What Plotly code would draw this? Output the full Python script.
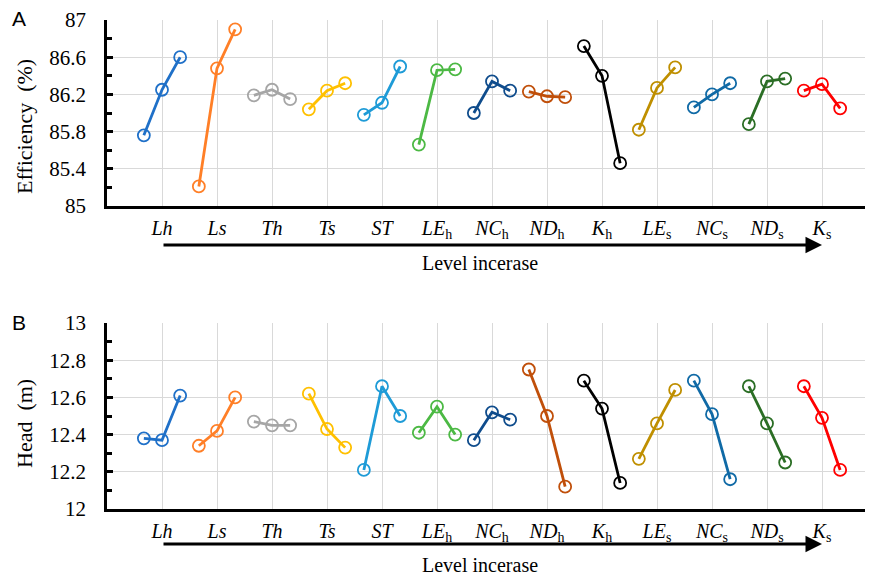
import plotly.graph_objects as go

categories = ["Lh", "Ls", "Th", "Ts", "ST", "LE_h", "NC_h", "ND_h", "K_h", "LE_s", "NC_s", "ND_s", "K_s"]
tick_labels = ["<i>Lh</i>", "<i>Ls</i>", "<i>Th</i>", "<i>Ts</i>", "<i>ST</i>",
               "<i>LE</i><sub>h</sub>", "<i>NC</i><sub>h</sub>", "<i>ND</i><sub>h</sub>", "<i>K</i><sub>h</sub>",
               "<i>LE</i><sub>s</sub>", "<i>NC</i><sub>s</sub>", "<i>ND</i><sub>s</sub>", "<i>K</i><sub>s</sub>"]

efficiency = [
    [85.76, 86.25, 86.60],
    [85.21, 86.48, 86.90],
    [86.19, 86.25, 86.15],
    [86.04, 86.24, 86.32],
    [85.98, 86.11, 86.50],
    [85.66, 86.46, 86.47],
    [86.00, 86.34, 86.24],
    [86.23, 86.18, 86.17],
    [86.72, 86.40, 85.46],
    [85.82, 86.27, 86.49],
    [86.06, 86.20, 86.32],
    [85.88, 86.34, 86.37],
    [86.24, 86.31, 86.05],
]

head = [
    [12.38, 12.37, 12.61],
    [12.34, 12.42, 12.60],
    [12.47, 12.45, 12.45],
    [12.62, 12.43, 12.33],
    [12.21, 12.66, 12.50],
    [12.41, 12.55, 12.40],
    [12.37, 12.52, 12.48],
    [12.75, 12.50, 12.12],
    [12.69, 12.54, 12.14],
    [12.27, 12.46, 12.64],
    [12.69, 12.51, 12.16],
    [12.66, 12.46, 12.25],
    [12.66, 12.49, 12.21],
]

colors = ["#1F70C8", "#FF7F27", "#A6A6A6", "#FFC000", "#1E9BD7", "#4CB944", "#0F4C8C",
          "#C04F0A", "#000000", "#BF8F00", "#106AA6", "#2B6E25", "#FF0000"]

level_offsets = [-0.33, 0.0, 0.33]

fig = go.Figure()

for i, cat in enumerate(categories):
    xs = [i + 1 + o for o in level_offsets]
    for vals, xa, ya in [(efficiency[i], "x", "y"), (head[i], "x2", "y2")]:
        fig.add_trace(go.Scatter(
            x=xs, y=vals, xaxis=xa, yaxis=ya, mode="lines+markers",
            line=dict(color=colors[i], width=2.8),
            marker=dict(symbol="circle-open", size=12, color=colors[i], line=dict(width=1.8)),
            showlegend=False, name=cat, cliponaxis=False,
        ))

serif = '"Liberation Serif", "Times New Roman", serif'
sans = '"Liberation Sans", Arial, sans-serif'
OFF = 8  # page body margin offset
W, H = 873 - OFF, 579 - OFF
ml, mt, mb = 107 - OFF, 20 - OFF, 70
plot_h = H - mt - mb

def py(pix):
    # pix is a screen y coordinate in the 873x579 window
    return (H - mb - (pix - OFF)) / plot_h

def px(pix):
    return (pix - OFF - ml) / (W - ml)

xrange = [0, (W - ml) / 55.0]
xaxis_common = dict(
    range=xrange, tickmode="array", tickvals=list(range(1, 14)), ticktext=tick_labels,
    showgrid=True, gridcolor="#D9D9D9", gridwidth=1.3, zeroline=False,
    showline=True, linecolor="black", linewidth=2.5, ticks="",
    tickfont=dict(family=serif, size=20, color="black"), ticklabelstandoff=2,
)
yaxis_common = dict(
    showgrid=True, gridcolor="#D9D9D9", gridwidth=1.3, zeroline=False,
    showline=True, linecolor="black", linewidth=2.5,
    ticks="inside", ticklen=6, tickwidth=2.5, tickcolor="black",
    tickfont=dict(family=serif, size=21, color="black"), ticklabelstandoff=14,
)

fig.update_layout(
    width=W, height=H, plot_bgcolor="white", paper_bgcolor="white",
    margin=dict(l=ml, r=0, t=mt, b=mb),
    font=dict(family=serif),
    xaxis=dict(domain=[0, 1], anchor="y", **xaxis_common),
    yaxis=dict(domain=[py(206), 1], anchor="x", range=[85, 87], tickvals=[85, 85.4, 85.8, 86.2, 86.6, 87],
               ticktext=["85", "85.4", "85.8", "86.2", "86.6", "87"],
               minor=dict(dtick=0.2, tick0=85, ticks="inside", ticklen=5, tickwidth=2.5, tickcolor="black", showgrid=False),
               **yaxis_common),
    xaxis2=dict(domain=[0, 1], anchor="y2", **xaxis_common),
    yaxis2=dict(domain=[0, py(323)], anchor="x2", range=[12, 13], tickvals=[12, 12.2, 12.4, 12.6, 12.8, 13],
                ticktext=["12", "12.2", "12.4", "12.6", "12.8", "13"],
                minor=dict(dtick=0.1, tick0=12, ticks="inside", ticklen=5, tickwidth=2.5, tickcolor="black", showgrid=False),
                **yaxis_common),
)

annotations = []
for (xref, arrow_y, text_y) in [("x", 245, 263), ("x2", 544, 565)]:
    annotations.append(dict(
        x=13, y=py(arrow_y), xref=xref, yref="paper", ax=1, ay=0, axref=xref, ayref="pixel",
        showarrow=True, arrowhead=2, arrowsize=1.1, arrowwidth=3, arrowcolor="black", text="",
    ))
    annotations.append(dict(
        x=px(480), y=py(text_y), xref="paper", yref="paper", showarrow=False,
        text="Level incerase", font=dict(family=serif, size=20, color="black"),
        xanchor="center", yanchor="middle",
    ))

annotations += [
    dict(x=px(19), y=py(18), xref="paper", yref="paper", showarrow=False, text="A",
         font=dict(family=sans, size=21, color="black"), xanchor="center", yanchor="middle"),
    dict(x=px(19), y=py(322), xref="paper", yref="paper", showarrow=False, text="B",
         font=dict(family=sans, size=21, color="black"), xanchor="center", yanchor="middle"),
    dict(x=px(24), y=py(127), xref="paper", yref="paper", showarrow=False,
         text="Efficiency  (%)", textangle=-90,
         font=dict(family=serif, size=22, color="black"), xanchor="center", yanchor="middle"),
    dict(x=px(24), y=py(424), xref="paper", yref="paper", showarrow=False,
         text="Head  (m)", textangle=-90,
         font=dict(family=serif, size=22, color="black"), xanchor="center", yanchor="middle"),
]
fig.update_layout(annotations=annotations)

fig.write_html("out.html")
